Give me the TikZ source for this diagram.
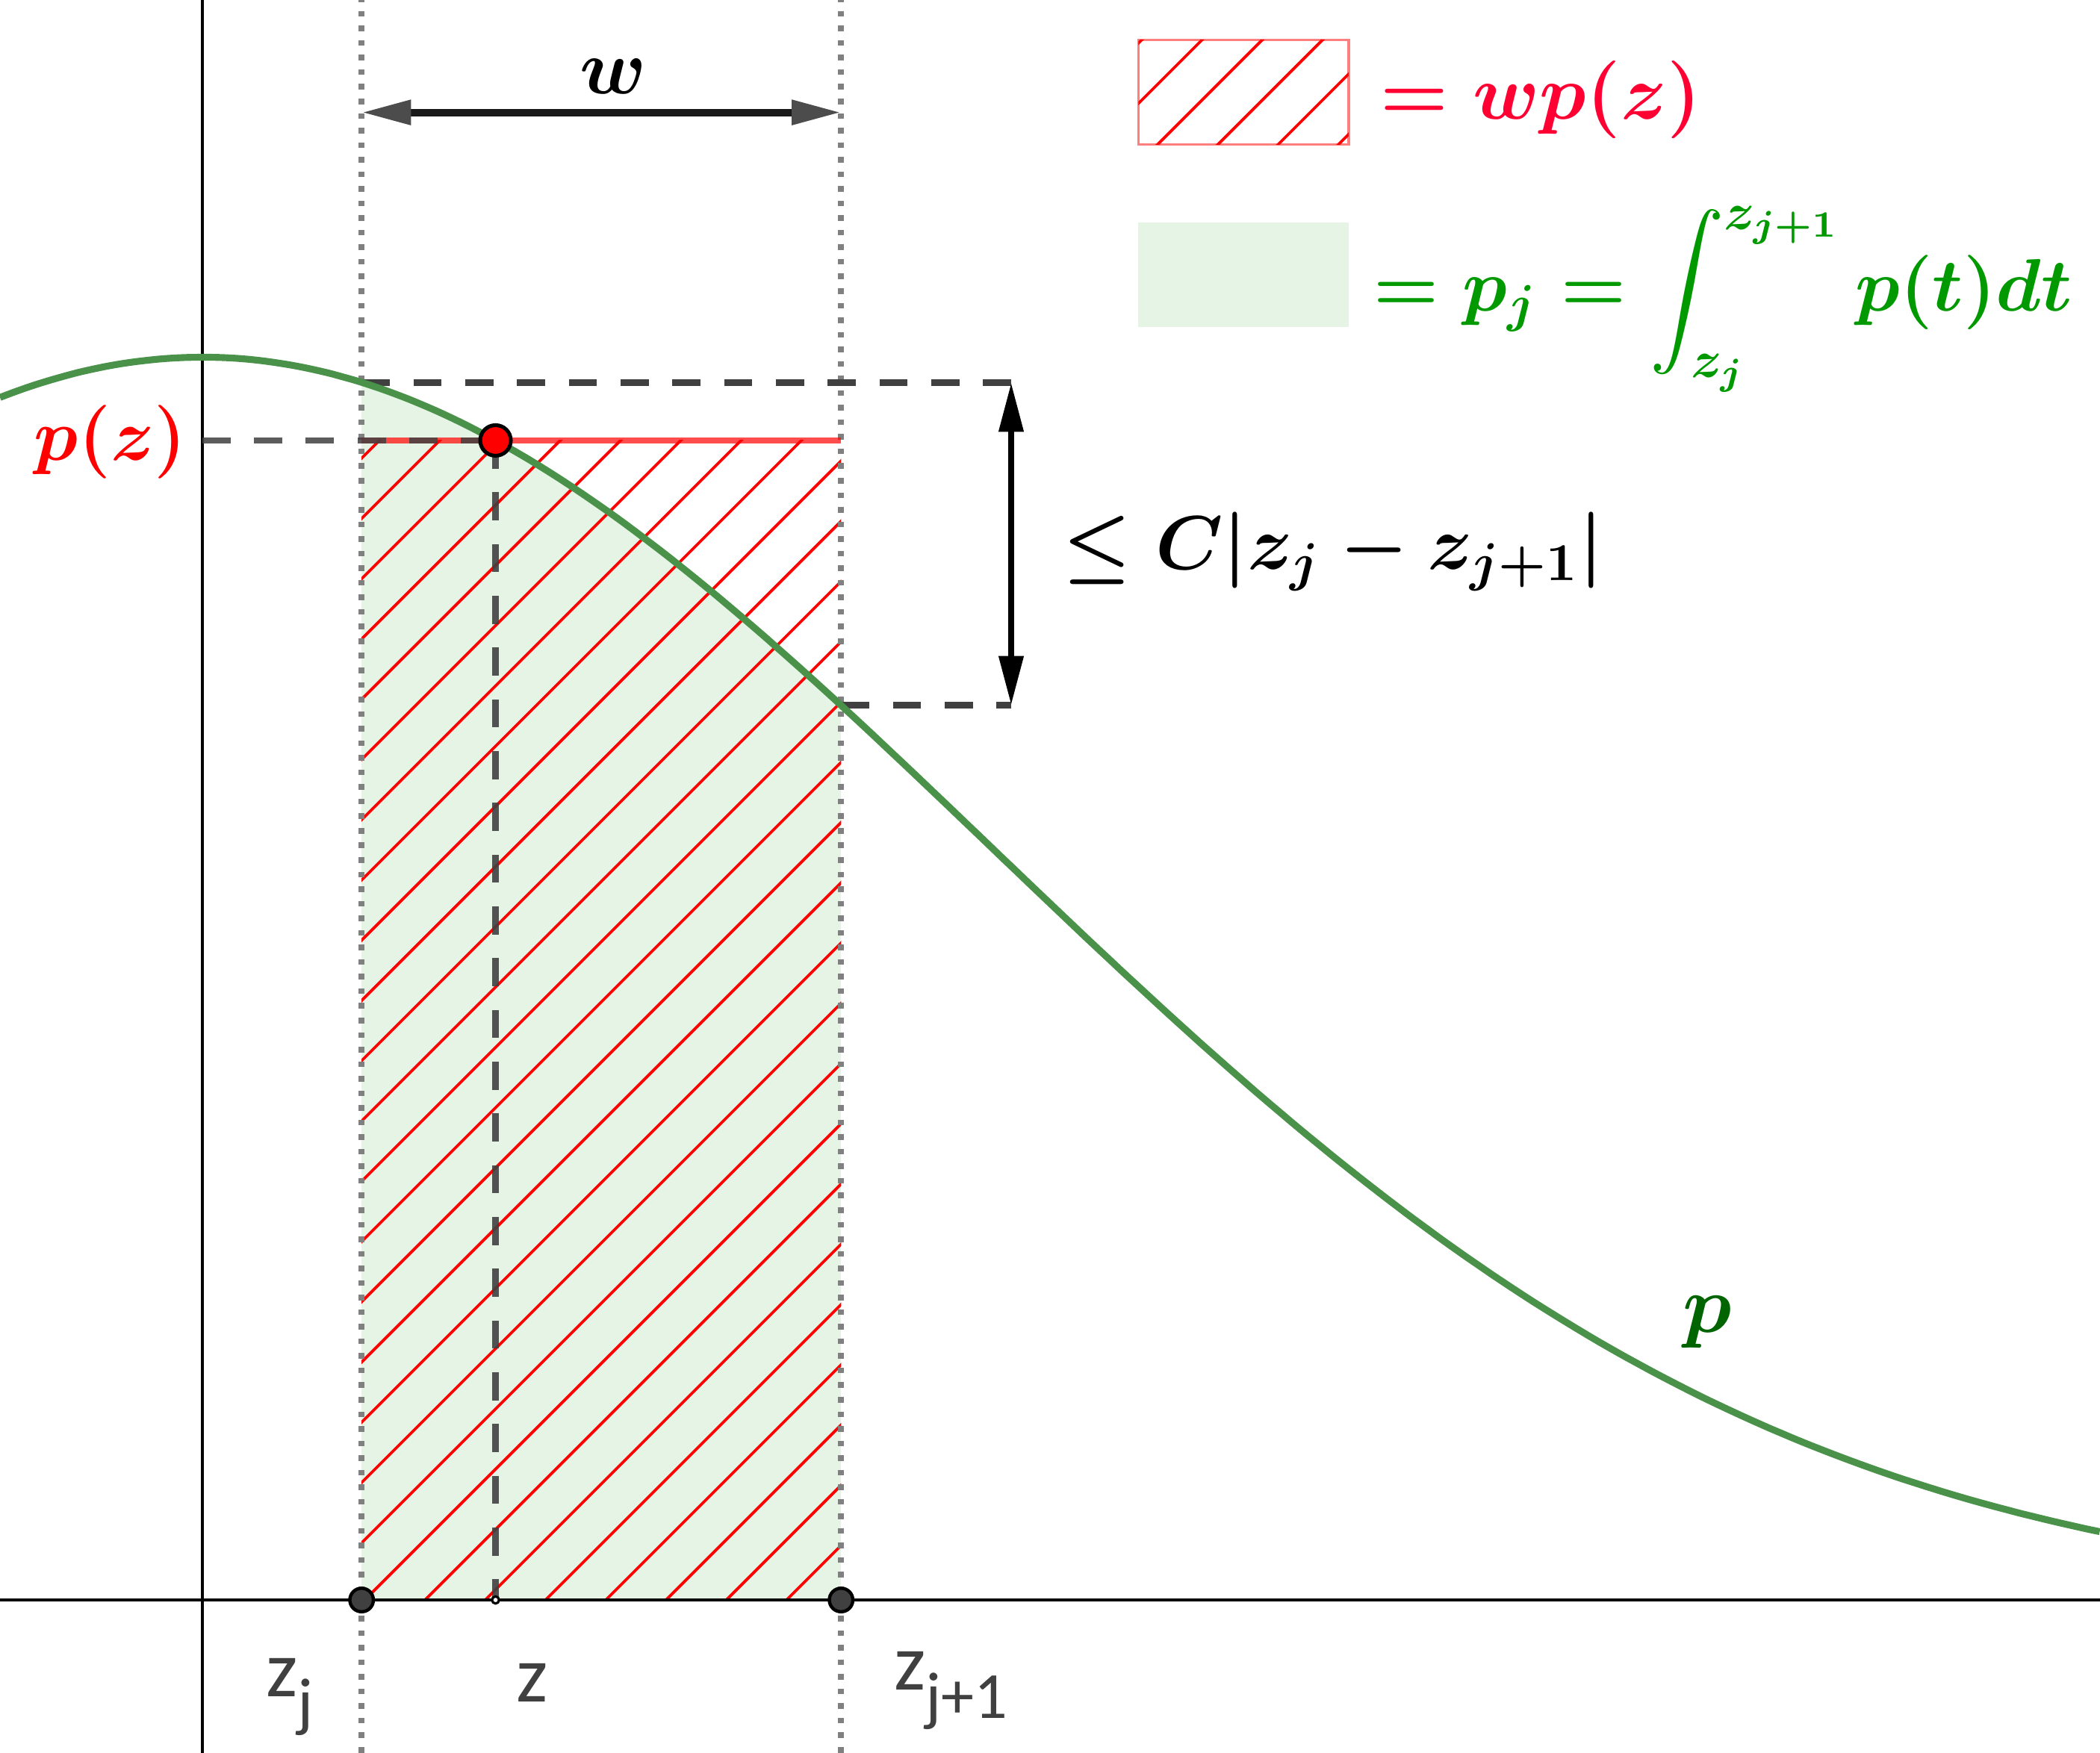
\documentclass[tikz,border=0pt]{standalone}
\usepackage{fix-cm}
\usepackage{amsmath,amssymb,bm}
\usepackage{fontspec}
\newfontfamily\ggbfont{Carlito}
\usepackage{tikz}
\usetikzlibrary{arrows.meta,positioning,calc}
\definecolor{curvegreen}{RGB}{74,145,74}
\definecolor{areagreen}{RGB}{229,244,228}
\definecolor{textgreen}{RGB}{0,153,0}
\definecolor{labelgreen}{RGB}{0,100,0}
\definecolor{hatchred}{RGB}{255,0,0}
\definecolor{legendred}{RGB}{255,0,51}
\definecolor{guidegray}{RGB}{128,128,128}
\definecolor{dashgray}{RGB}{64,64,64}
\newcommand{\ptsub}[2]{#1\raisebox{-6pt}{\fontsize{14}{14}\selectfont #2}}

\begin{document}
\begin{tikzpicture}[x=1cm,y=1cm,>={Triangle[length=10.5pt,width=5pt]},
  declare function={pdens(\t)=9.28*exp(-(\t)*(\t)/69.22);},
  mathlbl/.style={font=\fontsize{16.5}{19}\selectfont\boldmath,inner sep=0pt},
  ptlbl/.style={font=\ggbfont\fontsize{17}{20}\selectfont,text=dashgray,inner sep=0pt,anchor=base west},
  guide/.style={guidegray,line width=1.2pt,dash pattern=on 1.2pt off 1.9pt},
  helper/.style={dashgray,line width=1.4pt,dash pattern=on 6pt off 5pt},
  hatchline/.style={hatchred,line width=0.6pt},
  ptdot/.style={circle,draw=black,line width=0.7pt,fill=dashgray,minimum size=5pt,inner sep=0pt}]
  \useasboundingbox (-1.51,-1.14) rectangle (14.17,11.95);
  \coordinate (zj) at (1.19,0);
  \coordinate (zz) at (2.19,0);
  \coordinate (zj1) at (4.77,0);
  \coordinate (pzj) at (1.19,{pdens(1.19)});
  \coordinate (pz) at (2.19,{pdens(2.19)});
  \coordinate (pzj1) at (4.77,{pdens(4.77)});
  \coordinate (pzaxis) at (0,{pdens(2.19)});
  \coordinate (hatchtop) at (4.77,{pdens(2.19)});
  \coordinate (errtop) at (6.04,{pdens(1.19)});
  \coordinate (errbot) at (6.04,{pdens(4.77)});
  \coordinate (wleft) at (1.19,11.11);
  \coordinate (wright) at (4.77,11.11);

  \fill[areagreen] (zj) -- plot[domain=1.19:4.77,samples=40] (\x,{pdens(\x)}) -- (zj1) -- cycle;
  \begin{scope}
    \clip (zj) rectangle (hatchtop);
    \foreach \k in {-21,...,5}
      \draw[hatchline] ({2.113+0.45*\k},0) -- ++(9,9);
  \end{scope}

  \draw[line width=0.6pt] (-1.51,0) -- (14.17,0);
  \draw[line width=0.6pt] (0,-1.14) -- (0,11.95);
  \draw[guide] (1.19,-1.14) -- (1.19,11.95);
  \draw[guide] (4.77,-1.14) -- (4.77,11.95);

  \draw[hatchred,opacity=0.7,line width=1.2pt] (pz -| zj) -- (hatchtop);
  \draw[helper,opacity=0.85] (pzaxis) -- (pz);
  \draw[helper,opacity=0.9] (pz) -- (zz);
  \draw[helper] (pzj) -- (errtop);
  \draw[helper] (pzj1) -- (errbot);

  \draw[curvegreen,line width=1.45pt] plot[domain=-1.51:14.17,samples=160,smooth] (\x,{pdens(\x)});

  \draw[<->,line width=1.6pt,black!90,>={Triangle[length=10.5pt,width=5pt,color=black!70]}] (wleft) -- (wright);
  \draw[<->,line width=1.4pt,line cap=round] (errtop) -- (errbot);

  \node[ptdot] (dzj) at (zj) {};
  \node[ptdot] (dzj1) at (zj1) {};
  \node[circle,draw=black,line width=0.5pt,fill=white,minimum size=1.5pt,inner sep=0pt] (dz) at (zz) {};
  \node[circle,draw=black,line width=0.8pt,fill=red,minimum size=6.5pt,inner sep=0pt] (dpz) at (pz) {};

  \begin{scope}
    \clip (6.99,10.87) rectangle (8.56,11.65);
    \foreach \k in {-15,...,-10}
      \draw[hatchline] ({2.113+0.45*\k+10},10) -- ++(2,2);
  \end{scope}
  \draw[hatchred,opacity=0.5,line width=0.5pt] (6.99,10.87) rectangle (8.56,11.65);
  \fill[areagreen] (6.99,9.51) rectangle (8.56,10.29);

  \node[mathlbl,anchor=base east,text=red,font=\fontsize{15.6}{19}\selectfont\boldmath] (pzlbl) at (-0.11,8.51) {$p(z)$};
  \node[mathlbl,anchor=base] (wlbl) at (3.07,11.25) {$w$};
  \node[mathlbl,anchor=base west,font=\fontsize{16.2}{19}\selectfont\boldmath] (errlbl) at (6.42,7.70) {$\leq C|z_j - z_{j+1}|$};
  \node[mathlbl,anchor=base west,text=legendred] (hatchlbl) at (8.79,11.06) {$= wp(z)$};
  \node[mathlbl,anchor=base west,text=textgreen,font=\fontsize{15.8}{19}\selectfont\boldmath] (arealbl) at (8.74,9.63) {$\displaystyle = p_j = \int_{z_j}^{z_{j+1}} p(t)dt$};
  \node[mathlbl,anchor=base,text=labelgreen,font=\fontsize{17.28}{20}\selectfont\boldmath] (plbl) at (11.24,2.00) {$p$};

  \node[ptlbl] (zjlbl) at (0.47,-0.72) {\ptsub{z}{j}};
  \node[ptlbl] (zlbl) at (2.34,-0.76) {z};
  \node[ptlbl] (zj1lbl) at (5.16,-0.67) {\ptsub{z}{j+1}};
\end{tikzpicture}
\end{document}
